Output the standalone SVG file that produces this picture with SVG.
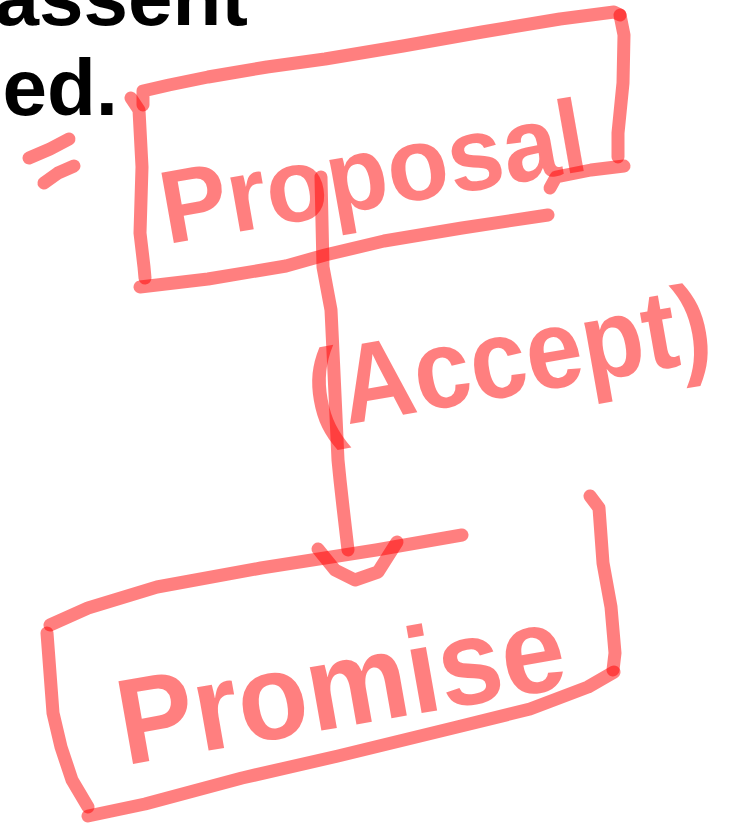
<svg xmlns="http://www.w3.org/2000/svg" width="742" height="826" viewBox="0 0 742 826">
<style>
.ink{fill:none;stroke:#ff0000;stroke-opacity:.5;stroke-width:13;stroke-linecap:round;stroke-linejoin:round}
.hand{font-family:"Liberation Sans",Arial,sans-serif;font-weight:bold;fill:#ff0000;fill-opacity:.5}
.body{font-family:"Liberation Sans",Arial,sans-serif;font-weight:bold;fill:#000;font-size:80px}
</style>
<rect width="742" height="826" fill="#fff"/>
<g id="background-text">
<text class="body" x="248" y="25" text-anchor="end">assent</text>
<text class="body" x="118" y="115" text-anchor="end">ed.</text>
</g>
<g id="equals-mark">
<path class="ink" d="M29,158 L50,149 L69,139"/>
<path class="ink" d="M44,183 L58,173 L74,166"/>
</g>
<g id="node-proposal">
<path class="ink" d="M131,98 L139,110 L142,167 L140,233 L144,267 L145,278"/>
<path class="ink" d="M143,105 L143,91 L169,85 L208,77 L267,67 L325,59 L403,46 L482,32 L560,19 L614,12 L620,15"/>
<path class="ink" d="M620,15 L624,35 L623,83 L618,133 L618,157"/>
<path class="ink" d="M550,188 L556,177 L591,170 L624,166"/>
<path class="ink" d="M140,287 L208,279 L286,266 L325,255 L384,241 L462,228 L548,215"/>
<text class="hand" x="379" y="207" font-size="104" text-anchor="middle" textLength="430" lengthAdjust="spacingAndGlyphs" transform="rotate(-10 379 207)">Proposal</text>
</g>
<g id="connectors">
<path class="ink" d="M321,177 L323,267 L331,310 L334,373 L338,460 L340,480 L343,507 L348,550"/>
<path class="ink" stroke-width="16" d="M318,549 L335,570 L355,580 L378,572 L397,542"/>
</g>
<g id="label-accept">
<text class="hand" x="515" y="395" font-size="112" text-anchor="middle" textLength="408" lengthAdjust="spacingAndGlyphs" transform="rotate(-10 515 395)">(Accept)</text>
</g>
<g id="node-promise">
<path class="ink" d="M50,625 L88,608 L157,587 L261,568 L376,550 L462,535"/>
<path class="ink" d="M47,633 L53,713 L61,747 L72,780 L88,807"/>
<path class="ink" d="M88,816 L145,804 L242,778 L338,756 L453,728 L530,709 L588,687 L614,672"/>
<path class="ink" d="M590,496 L599,508 L603,563 L611,607 L615,653 L613,670"/>
<text class="hand" x="348" y="726" font-size="122" text-anchor="middle" textLength="452" lengthAdjust="spacingAndGlyphs" transform="rotate(-10 348 726)">Promise</text>
</g>
</svg>
